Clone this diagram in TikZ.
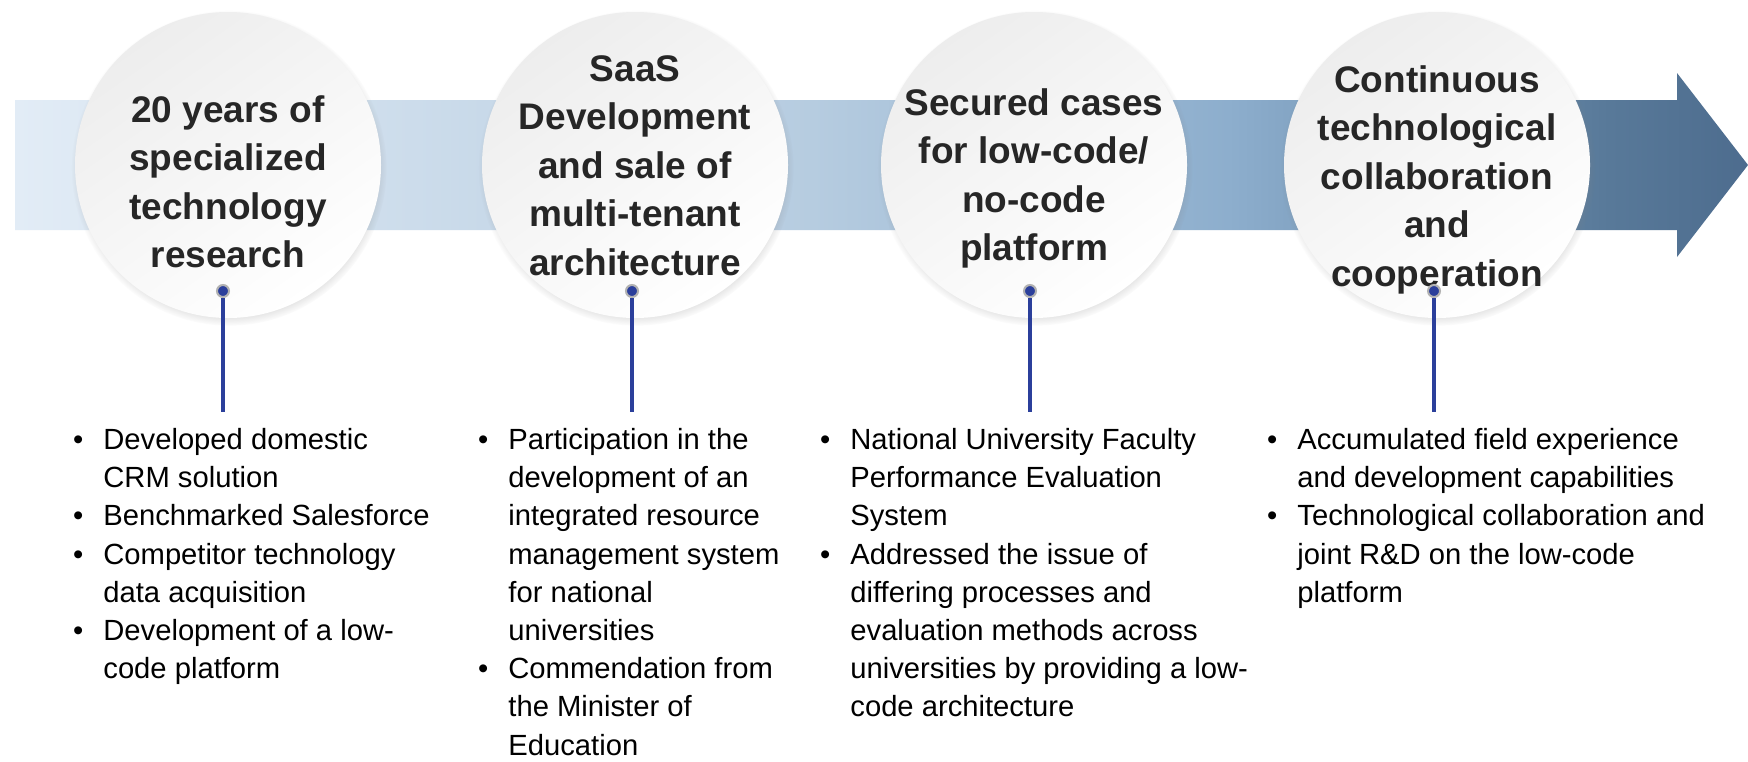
\documentclass[tikz,border=0pt]{standalone}
\usepackage{fontspec}
\setmainfont{Liberation Sans}
\usetikzlibrary{shadows}

\definecolor{bandA}{HTML}{E2ECF6}
\definecolor{bandB}{HTML}{B6CCE0}
\definecolor{bandC}{HTML}{8DAECD}
\definecolor{bandD}{HTML}{587999}
\definecolor{bandE}{HTML}{4D6C8E}
\definecolor{pinblue}{HTML}{2B3F9B}
\definecolor{titlegray}{HTML}{262626}

\pgfdeclarehorizontalshading{bandshade}{100bp}{color(0bp)=(bandA); color(25bp)=(bandA); color(48bp)=(bandB); color(60bp)=(bandC); color(71bp)=(bandD); color(75bp)=(bandE); color(100bp)=(bandE)}

\newcommand{\bul}{\llap{\textbullet\hspace{10pt}}}

\begin{document}
\begin{tikzpicture}[x=0.5pt,y=-0.5pt,
  bubble/.style={circle, minimum size=153pt, inner sep=0pt,
    top color=black!7, bottom color=white, shading angle=35,
    circular drop shadow={shadow xshift=0.5pt, shadow yshift=-1.5pt, shadow scale=1.03, opacity=0.5}},
  title/.style={anchor=north, align=center, inner sep=0pt, text=titlegray,
    font=\fontsize{18.5pt}{24.25pt}\selectfont\bfseries},
  bullets/.style={anchor=north west, align=left, inner sep=0pt,
    font=\fontsize{14.6pt}{19.1pt}\selectfont},
  pindot/.style={circle, fill=pinblue, draw=black!30, line width=1pt, minimum size=6pt, inner sep=0pt},
  pinline/.style={draw=pinblue, line width=1.75pt}]

  \useasboundingbox[fill=white] (0,0) rectangle (1748,761);

  % timeline arrow
  \shade[shading=bandshade] (15,100) -- (1677,100) -- (1677,73) -- (1748,165)
    -- (1677,257) -- (1677,230) -- (15,230) -- cycle;

  \foreach \n/\cx in {1/228, 2/635, 3/1034, 4/1437}
    \node[bubble] (c\n) at (\cx,165) {};

  \node[title] (t1) at (228,95) {20 years of\\specialized\\technology\\research};
  \node[title] (t2) at (635,55) {SaaS\\Development\\and sale of\\multi-tenant\\architecture};
  \node[title] (t3) at (1034,88) {Secured cases\\for low-code/\\no-code\\platform};
  \node[title] (t4) at (1437,65) {Continuous\\technological\\collaboration\\and\\cooperation};

  % pins
  \foreach \n/\px in {1/223, 2/632, 3/1030, 4/1434} {
    \node[pindot] (d\n) at (\px,291) {};
    \coordinate (e\n) at (\px,412);
    \draw[pinline] (d\n.south) -- (e\n);
  }

  \node[bullets] (b1) at (103,428) {\bul Developed domestic\\CRM solution\\
    \bul Benchmarked Salesforce\\\bul Competitor technology\\data acquisition\\
    \bul Development of a low-\\code platform};
  \node[bullets] (b2) at (508,428) {\bul Participation in the\\development of an\\
    integrated resource\\management system\\for national\\universities\\
    \bul Commendation from\\the Minister of\\Education};
  \node[bullets] (b3) at (850,428) {\bul National University Faculty\\
    Performance Evaluation\\System\\\bul Addressed the issue of\\
    differing processes and\\evaluation methods across\\
    universities by providing a low-\\code architecture};
  \node[bullets] (b4) at (1297,428) {\bul Accumulated field experience\\
    and development capabilities\\\bul Technological collaboration and\\
    joint R\&D on the low-code\\platform};

\end{tikzpicture}
\end{document}
